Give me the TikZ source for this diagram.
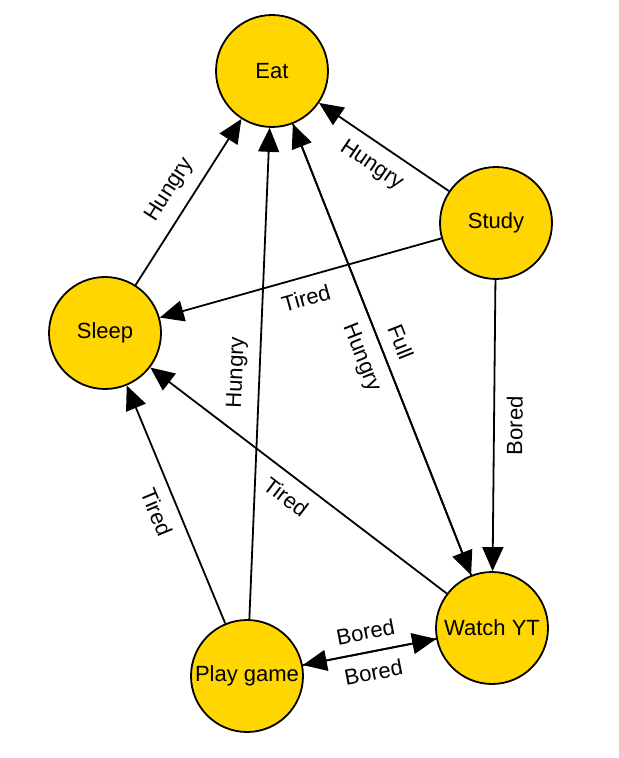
\documentclass[tikz,border=0pt]{standalone}
\usepackage{fontspec}
\setmainfont{Liberation Sans}
\usetikzlibrary{arrows.meta}
\definecolor{stategold}{RGB}{255,214,0}

\begin{document}
\begin{tikzpicture}[x=0.5pt,y=-0.5pt,
    font=\fontsize{11}{13}\selectfont,
    state/.style={draw,circle,fill=stategold,line width=0.9pt,
      minimum size=56pt,inner sep=0pt},
    trans/.style={-{Triangle[length=12pt,width=10.5pt]},line width=0.9pt}]
\useasboundingbox (0,0) rectangle (618,758);

\node [state] (eat)   at (272, 71) {Eat};
\node [state] (study) at (496,223) {Study};
\node [state] (sleep) at (105,333) {Sleep};
\node [state] (watch) at (492,628) {Watch YT};
\node [state] (play)  at (247,676) {Play game};

\draw [trans] (sleep) -- node[sloped,above=2.5pt] {Hungry} (eat);
\draw [trans] (study) -- node[sloped,below=2.5pt] {Hungry} (eat);
\draw [trans] (study) -- node[sloped,below=2.5pt] {Tired}  (sleep);
\draw [trans] (study) -- node[sloped,below=2.5pt] {Bored}  (watch);
\draw [trans] (play)  -- node[sloped,above=2.5pt] {Hungry} (eat);
\draw [trans] (play)  -- node[sloped,below=2.5pt] {Tired}  (sleep);
\draw [trans] (watch) -- node[sloped,below=2.5pt] {Hungry} (eat);
\draw [trans] (eat)   -- node[sloped,above=2.5pt] {Full}   (watch);
\draw [trans] (watch) -- node[sloped,below=2.5pt] {Tired}  (sleep);
\draw [trans] (play)  -- node[sloped,above=2.5pt] {Bored}  (watch);
\draw [trans] (watch) -- node[sloped,below=2.5pt] {Bored}  (play);
\end{tikzpicture}
\end{document}
